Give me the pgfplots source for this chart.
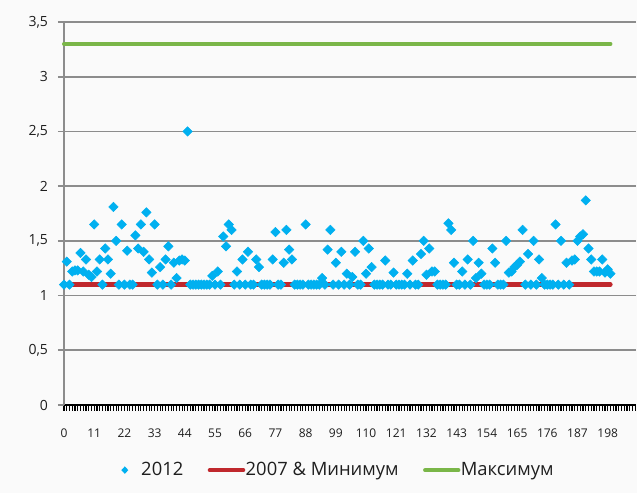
\documentclass[border=0pt]{standalone}
\usepackage{pgfplots}
\pgfplotsset{compat=1.18}
\usepackage{fontspec}
\setmainfont{Open Sans}
\usetikzlibrary{backgrounds}
\definecolor{bgc}{RGB}{250,250,250}
\definecolor{gridc}{RGB}{140,140,140}
\definecolor{ptc}{RGB}{0,176,240}
\definecolor{redc}{RGB}{192,40,45}
\definecolor{greenc}{RGB}{122,182,72}
\definecolor{txt}{RGB}{30,30,30}
\begin{document}
\begin{tikzpicture}
\begin{axis}[
  scale only axis, width=429pt, height=287.25pt,
  xmin=0, xmax=208.3, ymin=0, ymax=3.5,
  axis x line*=bottom, axis y line*=left,
  x axis line style={black, line width=1.2pt},
  y axis line style={gridc, line width=1.3pt},
  xtick={0,11,...,198}, minor xtick={0,1,...,208},
  ytick={0,0.5,...,3.5},
  tick align=outside,
  major tick length=4.5pt, minor tick length=4.5pt,
  x tick style={black, line width=0.85pt},
  minor x tick style={black, line width=0.85pt},
  y tick style={gridc, line width=1.3pt},
  ymajorgrids, grid style={gridc, line width=1.3pt},
  /pgf/number format/assume math mode=true,
  /pgf/number format/use comma,
  yticklabel style={font=\fontsize{10.5}{12}\selectfont, text=txt, xshift=-4pt},
  xticklabel style={font=\fontsize{9}{11}\selectfont, text=txt, yshift=-10pt},
  legend style={at={(0.478,-0.17)}, anchor=center, draw=none, fill=none,
    font=\fontsize{13.8}{16}\selectfont, text=txt, legend cell align=left,
    /tikz/every even column/.style={column sep=18pt},
    nodes={inner xsep=0.3pt}},
  legend columns=3,
  clip=false,
]
\addplot[only marks, mark=square*, mark size=2.5pt, mark options={rotate=45, fill=ptc, draw=ptc},
  legend image code/.code={\fill[ptc, draw=none] (0pt,2.8pt) -- (2.6pt,0pt) -- (0pt,-2.8pt) -- (-2.6pt,0pt) -- cycle;\path[draw=none, fill=none] (-3pt,0pt) rectangle (12pt,0.1pt);}]
coordinates {
(0,1.1)(1,1.31)(2,1.1)(3,1.22)(4,1.23)(5,1.23)(6,1.39)(7,1.22)(8,1.33)(9,1.19)
(10,1.17)(11,1.65)(12,1.22)(13,1.33)(14,1.1)(15,1.43)(16,1.33)(17,1.20)(18,1.81)(19,1.50)
(20,1.1)(21,1.65)(22,1.1)(23,1.41)(24,1.1)(25,1.1)(26,1.55)(27,1.43)(28,1.65)(29,1.40)
(30,1.76)(31,1.33)(32,1.21)(33,1.65)(34,1.1)(35,1.26)(36,1.1)(37,1.33)(38,1.45)(39,1.1)
(40,1.30)(41,1.16)(42,1.32)(43,1.33)(44,1.32)(45,2.5)(46,1.1)(47,1.1)(48,1.1)(49,1.1)
(50,1.1)(51,1.1)(52,1.1)(53,1.1)(54,1.18)(55,1.1)(56,1.22)(57,1.1)(58,1.54)(59,1.45)
(60,1.65)(61,1.60)(62,1.1)(63,1.22)(64,1.1)(65,1.33)(66,1.1)(67,1.40)(68,1.1)(69,1.1)
(70,1.33)(71,1.26)(72,1.1)(73,1.1)(74,1.1)(75,1.1)(76,1.33)(77,1.58)(78,1.1)(79,1.1)
(80,1.30)(81,1.60)(82,1.42)(83,1.33)(84,1.1)(85,1.1)(86,1.1)(87,1.1)(88,1.65)(89,1.1)
(90,1.1)(91,1.1)(92,1.1)(93,1.1)(94,1.16)(95,1.1)(96,1.42)(97,1.60)(98,1.1)(99,1.30)
(100,1.1)(101,1.40)(102,1.1)(103,1.20)(104,1.1)(105,1.17)(106,1.40)(107,1.1)(108,1.1)(109,1.50)
(110,1.20)(111,1.43)(112,1.26)(113,1.1)(114,1.1)(115,1.1)(116,1.1)(117,1.32)(118,1.1)(119,1.1)
(120,1.21)(121,1.1)(122,1.1)(123,1.1)(124,1.1)(125,1.20)(126,1.1)(127,1.32)(128,1.1)(129,1.1)
(130,1.38)(131,1.50)(132,1.19)(133,1.43)(134,1.22)(135,1.22)(136,1.1)(137,1.1)(138,1.1)(139,1.1)
(140,1.66)(141,1.60)(142,1.30)(143,1.1)(144,1.1)(145,1.22)(146,1.1)(147,1.33)(148,1.1)(149,1.50)
(150,1.16)(151,1.30)(152,1.20)(153,1.1)(154,1.1)(155,1.1)(156,1.43)(157,1.30)(158,1.1)(159,1.1)
(160,1.1)(161,1.50)(162,1.21)(163,1.22)(164,1.26)(165,1.28)(166,1.31)(167,1.60)(168,1.1)(169,1.38)
(170,1.1)(171,1.50)(172,1.1)(173,1.33)(174,1.16)(175,1.1)(176,1.1)(177,1.1)(178,1.1)(179,1.65)
(180,1.1)(181,1.50)(182,1.1)(183,1.30)(184,1.1)(185,1.32)(186,1.33)(187,1.50)(188,1.54)(189,1.56)
(190,1.87)(191,1.43)(192,1.33)(193,1.22)(194,1.22)(195,1.22)(196,1.33)(197,1.21)(198,1.24)(199,1.20)
};
\addlegendentry{2012}
\addplot[redc, line width=3.2pt, line cap=round,
  legend image code/.code={\draw[redc, line width=3.2pt, line cap=round] (0pt,0pt) -- (25pt,0pt);}]
coordinates {(0,1.1)(199,1.1)};
\addlegendentry{2007 \& Минимум}
\addplot[greenc, line width=3pt, line cap=round,
  legend image code/.code={\draw[greenc, line width=3pt, line cap=round] (0pt,0pt) -- (25pt,0pt);}]
coordinates {(0,3.3)(199,3.3)};
\addlegendentry{Максимум}
\end{axis}
\begin{pgfonlayer}{background}
\fill[bgc] (-48pt,-66pt) rectangle (429.75pt,303.75pt);
\end{pgfonlayer}
\pgfresetboundingbox
\path[use as bounding box] (-48pt,-66pt) rectangle (429.75pt,303.75pt);
\end{tikzpicture}
\end{document}
